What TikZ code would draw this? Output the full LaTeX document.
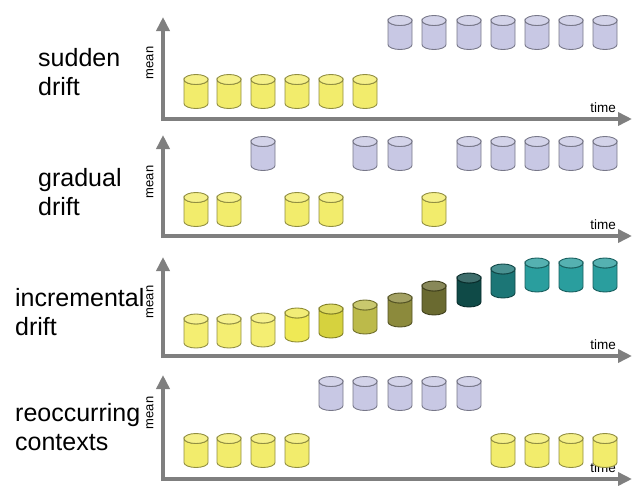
\documentclass[tikz,border=0pt]{standalone}
\usepackage{fontspec}
\setmainfont{Liberation Sans}
\usetikzlibrary{arrows.meta}
\definecolor{yel}{HTML}{F2EC6C}
\definecolor{lil}{HTML}{C8C8E4}
\definecolor{axgray}{HTML}{7F7F7F}
\definecolor{inca}{HTML}{F4EE72}
\definecolor{incb}{HTML}{EFE955}
\definecolor{incc}{HTML}{D6D23E}
\definecolor{incd}{HTML}{BCBA4A}
\definecolor{ince}{HTML}{8C8A3C}
\definecolor{incf}{HTML}{6A6A30}
\definecolor{incg}{HTML}{0F4A47}
\definecolor{inch}{HTML}{1C7676}
\definecolor{inci}{HTML}{2A9E9E}
\tikzset{
  pics/drum/.style={code={
    \filldraw[fill=#1,draw=#1!60!black,line width=0.9pt]
      (-12,12) -- (-12,-12) arc[start angle=180,end angle=360,x radius=12,y radius=5]
      -- (12,12) arc[start angle=0,end angle=-180,x radius=12,y radius=5] -- cycle;
    \filldraw[fill=#1!80!white,draw=#1!60!black,line width=0.9pt]
      (0,12) ellipse[x radius=12,y radius=5];
  }},
  axisline/.style={draw=axgray,line width=4pt,
    -{Triangle[width=13pt,length=14pt]}},
  driftlbl/.style={anchor=west,align=left,inner sep=0pt,
    font=\fontsize{25}{29}\selectfont},
  meanlbl/.style={rotate=90,inner sep=0pt,font=\fontsize{13}{13}\selectfont},
  timelbl/.style={inner sep=0pt,font=\fontsize{13.5}{13.5}\selectfont}
}
\begin{document}
\begin{tikzpicture}[x=1pt,y=1pt]
  \useasboundingbox (0,0) rectangle (632,-485);
  % axes
  \foreach \p/\ax/\tp/\my in {1/119/17/63, 2/236/135/182, 3/356/257/302, 4/479/375/413} {
    \coordinate (o\p) at (163,-\ax);
    \coordinate (m\p) at (163,-\tp);
    \coordinate (t\p) at (632,-\ax);
    \draw[axisline] ([yshift=-2pt]o\p) -- (m\p);
    \draw[axisline] ([xshift=-2pt]o\p) -- (t\p);
    \node[meanlbl] (mean\p) at (150,-\my) {mean};
    \node[timelbl] (time\p) at (603,-\ax+11) {time};
  }
  \node[driftlbl] (lsud) at (38,-72.5) {sudden\\drift};
  \node[driftlbl] (lgra) at (38,-192.5) {gradual\\drift};
  \node[driftlbl] (linc) at (15,-312.5) {incremental\\drift};
  \node[driftlbl] (lreo) at (15,-427) {reoccurring\\contexts};
  % sudden
  \foreach \c [count=\i] in {196,229,263,297,331,365}
    \pic (sy\i) at (\c,-91.5) {drum=yel};
  \foreach \c [count=\i] in {400,434,469,503,537,571,605}
    \pic (sp\i) at (\c,-32.5) {drum=lil};
  % gradual
  \foreach \c [count=\i] in {196,229,297,331,434}
    \pic (gy\i) at (\c,-209.5) {drum=yel};
  \foreach \c [count=\i] in {263,365,400,469,503,537,571,605}
    \pic (gp\i) at (\c,-153.5) {drum=lil};
  % incremental
  \foreach \c/\h/\col [count=\i] in {196/331/inca,229/331/inca,263/330/inca,
      297/325/incb,331/321/incc,365/317/incd,400/310/ince,434/298/incf,
      469/290/incg,503/281/inch,537/275/inci,571/275/inci,605/275/inci}
    \pic (ic\i) at (\c,-\h) {drum=\col};
  % reoccurring
  \foreach \c [count=\i] in {196,229,263,297,503,537,571,605}
    \pic (ry\i) at (\c,-450.5) {drum=yel};
  \foreach \c [count=\i] in {331,365,400,434,469}
    \pic (rp\i) at (\c,-393.5) {drum=lil};
\end{tikzpicture}
\end{document}
